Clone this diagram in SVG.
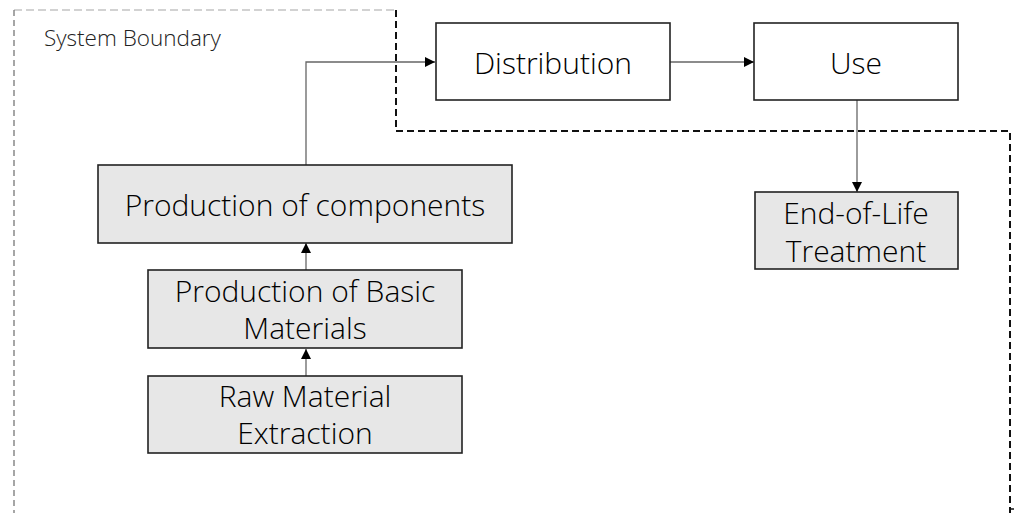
<svg xmlns="http://www.w3.org/2000/svg" width="1016" height="513" viewBox="0 0 1016 513">
<defs>
<style>
.box{stroke:#222;stroke-width:1.6}
.white{fill:#ffffff}
.grey{fill:#e7e7e7}
.lbl{font-family:"Open Sans","Noto Sans","Liberation Sans",sans-serif;font-weight:300;fill:#000;text-anchor:middle;font-size:30px}
.conn{fill:none;stroke:#666;stroke-width:1.3}
.bd{fill:none;stroke:#111;stroke-width:2;stroke-dasharray:7 4}
</style>
<marker id="arr" viewBox="0 0 10 10" refX="10" refY="5" markerWidth="10" markerHeight="10" markerUnits="userSpaceOnUse" orient="auto">
<path d="M0,0 L10,5 L0,10 Z" fill="#000"/>
</marker>
</defs>
<rect width="1016" height="513" fill="#fff"/>
<g id="boundary">
<path d="M14,10 H396" fill="none" stroke="#c4c4c4" stroke-width="1.5" stroke-dasharray="8 4"/>
<path d="M14,10 V513" fill="none" stroke="#777" stroke-width="1.3" stroke-dasharray="6 4"/>
<path class="bd" d="M396,10 V131 H1010 V513"/>
<path d="M1010,509 H1014" stroke="#111" stroke-width="1.5"/>
<text x="44" y="46" font-family="Open Sans, Noto Sans, Liberation Sans, sans-serif" font-weight="300" font-size="22.5" fill="#222">System Boundary</text>
</g>
<g id="connectors">
<path class="conn" d="M306,165 V62 H435" marker-end="url(#arr)"/>
<path class="conn" d="M670,62 H754" marker-end="url(#arr)"/>
<path class="conn" d="M857,100 V192" marker-end="url(#arr)"/>
<path class="conn" d="M306,270 V243" marker-end="url(#arr)"/>
<path class="conn" d="M306,376 V349" marker-end="url(#arr)"/>
</g>
<g id="distribution">
<rect class="box white" x="436" y="23" width="234" height="77"/>
<text class="lbl" x="553" y="74">Distribution</text>
</g>
<g id="use">
<rect class="box white" x="754" y="23" width="204" height="77"/>
<text class="lbl" x="856" y="74">Use</text>
</g>
<g id="end-of-life">
<rect class="box grey" x="755" y="192" width="203" height="77"/>
<text class="lbl" x="856" y="224">End-of-Life</text>
<text class="lbl" x="856" y="261.5">Treatment</text>
</g>
<g id="components">
<rect class="box grey" x="98" y="165" width="414" height="78"/>
<text class="lbl" x="305" y="215.5">Production of components</text>
</g>
<g id="basic-materials">
<rect class="box grey" x="148" y="270" width="314" height="78"/>
<text class="lbl" x="305" y="301.5">Production of Basic</text>
<text class="lbl" x="305" y="339">Materials</text>
</g>
<g id="raw-material">
<rect class="box grey" x="148" y="376" width="314" height="77"/>
<text class="lbl" x="305" y="406.5">Raw Material</text>
<text class="lbl" x="305" y="444">Extraction</text>
</g>
</svg>
